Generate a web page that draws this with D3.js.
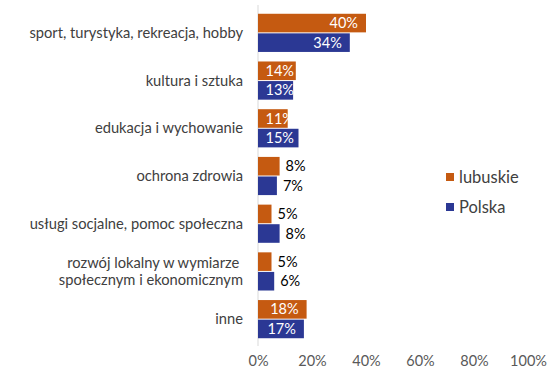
<!DOCTYPE html>
<html>
<head>
<meta charset="utf-8">
<script src="https://cdn.jsdelivr.net/npm/d3@7"></script>
<style>
  body { margin: 0; background: #fff; }
  text { font-family: Lato, "Open Sans", sans-serif; }
</style>
</head>
<body>
<svg id="chart" width="555" height="385"></svg>
<script>
// categories, top to bottom
let categories = ["sport, turystyka, rekreacja, hobby", "kultura i sztuka", "edukacja i wychowanie",
    "ochrona zdrowia", "usługi socjalne, pomoc społeczna",
    "rozwój lokalny w wymiarze |społecznym i ekonomicznym", "inne"];
let series = ["lubuskie", "Polska"];
let lubuskie = [40, 14, 11, 8, 5, 5, 18];
let polska = [34, 13, 15, 7, 8, 6, 17];
let ticks = [0, 20, 40, 60, 80, 100];
let colors = {"lubuskie": "#C55A11", "Polska": "#2B3894"};

let svg = d3.select('#chart');

let x = d3.scaleLinear().domain([0, 100]).range([258, 528]);
let y = d3.scaleBand().domain(categories).range([9, 343]).paddingInner(0.2).paddingOuter(0.1);
let ySub = d3.scaleBand().domain(series).range([0, y.bandwidth()]).paddingInner(0.05);

let rows = [];
categories.forEach((c, i) => {
    rows.push({cat: c, s: "lubuskie", v: lubuskie[i]});
    rows.push({cat: c, s: "Polska", v: polska[i]});
});

// axis line
svg.append('line')
    .attr('x1', x(0)).attr('x2', x(0))
    .attr('y1', 5).attr('y2', 346)
    .style('stroke', '#d9d9d9');

// tick labels
let axis = d3.axisBottom(x).tickValues(ticks).tickFormat((d) => d + '%').tickSize(0).tickPadding(0);
let gAxis = svg.append('g').attr('transform', 'translate(0,356)').call(axis);
gAxis.select('.domain').remove();
gAxis.selectAll('text')
    .attr('dy', '0.71em')
    .style('font-size', '14.5px')
    .style('font-family', 'Lato, sans-serif')
    .style('fill', '#595959');

// bars
svg.append('g').selectAll('rect')
    .data(rows).enter().append('rect')
    .attr('x', x(0))
    .attr('y', (d) => y(d.cat) + ySub(d.s))
    .attr('width', (d) => x(d.v) - x(0))
    .attr('height', ySub.bandwidth())
    .style('fill', (d) => colors[d.s]);

// data labels
svg.append('g').selectAll('text')
    .data(rows).enter().append('text')
    .attr('x', function (d) {
        if (d.v >= 10) return Math.max(x(d.v) - 8, x(0) + 36);
        return x(d.v) + 6;
    })
    .attr('y', (d) => y(d.cat) + ySub(d.s) + ySub.bandwidth() / 2)
    .attr('dy', '0.35em')
    .attr('text-anchor', (d) => d.v >= 10 ? 'end' : 'start')
    .style('font-size', '14.5px')
    .style('fill', (d) => d.v >= 10 ? '#fff' : '#000')
    .text((d) => d.v + '%');

// category labels
let catText = svg.append('g').selectAll('text')
    .data(categories).enter().append('text')
    .attr('x', 243)
    .attr('y', (d) => y(d) + y.bandwidth() / 2)
    .attr('text-anchor', 'end')
    .style('font-size', '14.7px')
    .style('fill', '#404040')
    .style('white-space', 'pre');

catText.each(function (d) {
    let lines = d.split('|');
    let t = d3.select(this);
    lines.forEach((l, i) => {
        t.append('tspan')
            .attr('x', 243)
            .attr('dy', i === 0 ? (0.35 - (lines.length - 1) * 0.6) + 'em' : '1.2em')
            .text(l);
    });
});

// legend
let legend = svg.append('g').selectAll('g')
    .data(series).enter().append('g')
    .attr('transform', (d, i) => 'translate(446,' + (173 + i * 30) + ')');
legend.append('rect')
    .attr('width', 8).attr('height', 8)
    .style('fill', (d) => colors[d]);
legend.append('text')
    .attr('x', 13).attr('y', 4).attr('dy', '0.35em')
    .style('font-size', '16.5px')
    .style('fill', '#404040')
    .text((d) => d);
</script>
</body>
</html>
